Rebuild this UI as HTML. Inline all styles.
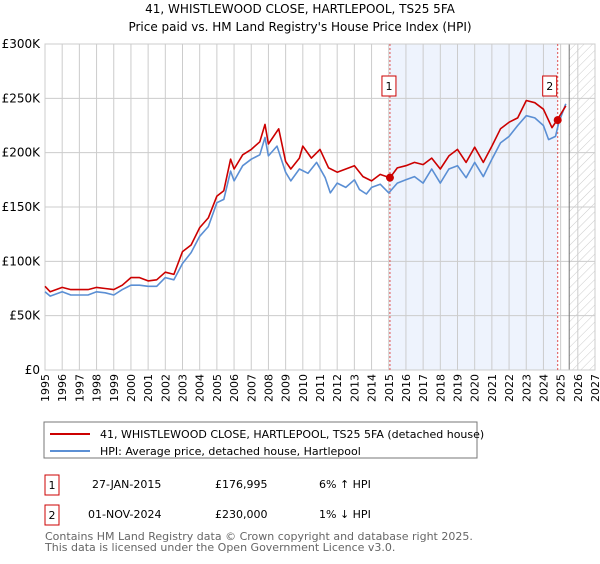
<!DOCTYPE html>
<html><head><meta charset="utf-8"><style>
body{margin:0;background:#fff;font-family:"DejaVu Sans","Liberation Sans",sans-serif;}
svg text{font-family:"DejaVu Sans","Liberation Sans",sans-serif;}
</style></head><body>
<svg id="c" width="600" height="560" viewBox="0 0 600 560" xmlns="http://www.w3.org/2000/svg">
<defs><pattern id="h" width="6" height="6" patternUnits="userSpaceOnUse" patternTransform="rotate(45)"><line x1="0" y1="0" x2="0" y2="6" stroke="#ccc" stroke-width="1"/></pattern></defs>
<text x="300" y="13" text-anchor="middle" font-size="12" fill="#000">41, WHISTLEWOOD CLOSE, HARTLEPOOL, TS25 5FA</text>
<text x="300" y="31" text-anchor="middle" font-size="12" fill="#000">Price paid vs. HM Land Registry's House Price Index (HPI)</text>
<g id="plot"></g>
<rect x="44" y="422" width="433" height="36" fill="#fff" stroke="#777"/>
<line x1="50" y1="434" x2="90" y2="434" stroke="#cc0000" stroke-width="2"/>
<text x="100" y="438" font-size="11">41, WHISTLEWOOD CLOSE, HARTLEPOOL, TS25 5FA (detached house)</text>
<line x1="50" y1="451" x2="90" y2="451" stroke="#5b8fd4" stroke-width="2"/>
<text x="100" y="455" font-size="11">HPI: Average price, detached house, Hartlepool</text>
<g>
<rect x="45" y="475" width="14" height="20" fill="#fff" stroke="#cc0000"/>
<text x="52" y="489" text-anchor="middle" font-size="11">1</text>
<text x="92" y="488" font-size="11">27-JAN-2015</text>
<text x="215" y="488" font-size="11">£176,995</text>
<text x="319" y="488" font-size="11">6% ↑ HPI</text></g>
<g>
<rect x="45" y="505" width="14" height="20" fill="#fff" stroke="#cc0000"/>
<text x="52" y="519" text-anchor="middle" font-size="11">2</text>
<text x="88" y="518" font-size="11">01-NOV-2024</text>
<text x="215" y="518" font-size="11">£230,000</text>
<text x="319" y="518" font-size="11">1% ↓ HPI</text></g>
<text x="45" y="540" font-size="11" fill="#666">Contains HM Land Registry data © Crown copyright and database right 2025.</text>
<text x="45" y="551" font-size="11" fill="#666">This data is licensed under the Open Government Licence v3.0.</text>
</svg>
<script>
const hpiYears=[1995,1995.3,1996,1996.5,1997,1997.5,1998,1998.5,1999,1999.5,2000,2000.5,2001,2001.5,2002,2002.5,2003,2003.5,2004,2004.5,2005,2005.4,2005.8,2006,2006.5,2007,2007.5,2007.8,2008,2008.5,2009,2009.3,2009.8,2010.3,2010.8,2011.3,2011.6,2012,2012.5,2013,2013.3,2013.7,2014,2014.5,2015,2015.5,2016,2016.5,2017,2017.5,2018,2018.5,2019,2019.5,2020,2020.5,2021,2021.5,2022,2022.5,2023,2023.5,2024,2024.3,2024.7,2024.9,2025.3];
const hpiValues=[72,68,72,69,69,69,72,71,69,74,78,78,77,77,85,83,98,108,123,132,154,157,183,174,188,194,198,214,197,206,182,174,185,181,191,177,163,172,168,175,166,162,168,171,163,172,175,178,172,185,172,185,188,177,191,178,194,209,215,225,234,232,225,212,215,228,245];
const priceYears=[1995,1995.3,1996,1996.5,1997,1997.5,1998,1998.5,1999,1999.5,2000,2000.5,2001,2001.5,2002,2002.5,2003,2003.5,2004,2004.5,2005,2005.4,2005.8,2006,2006.5,2007,2007.5,2007.8,2008,2008.6,2009,2009.3,2009.8,2010,2010.5,2011,2011.5,2012,2012.5,2013,2013.5,2014,2014.5,2015.07,2015.5,2016,2016.5,2017,2017.5,2018,2018.5,2019,2019.5,2020,2020.5,2021,2021.5,2022,2022.5,2023,2023.5,2024,2024.5,2024.83,2025.3];
const priceValues=[77,72,76,74,74,74,76,75,74,78,85,85,82,83,90,88,109,115,131,140,160,165,194,185,198,203,210,226,208,222,192,185,195,206,195,203,186,182,185,188,178,174,180,177,186,188,191,189,195,185,197,203,191,205,191,206,222,228,232,248,246,240,223,231,243];
const yTicks=[0,50,100,150,200,250,300];
const yLabels=["£0","£50K","£100K","£150K","£200K","£250K","£300K"];
const xTicks=[];for(let y=1995;y<=2027;y++)xTicks.push(y);
const sales=[[2015.07,176.995],[2024.83,230]];
const X0=45,X1=595,Y0=370,Y1=44;
const xs=v=>X0+(v-1995)*(X1-X0)/32;
const ys=v=>Y0-v*(Y0-Y1)/300;
const NS="http://www.w3.org/2000/svg";
const g=document.getElementById('plot');
function mk(t,a){const e=document.createElementNS(NS,t);for(const k in a)e.setAttribute(k,a[k]);g.appendChild(e);return e;}
let e=mk('rect',{x:xs(2015.07),y:Y1,width:xs(2024.83)-xs(2015.07),height:Y0-Y1,fill:'#eef3fd'});


e=mk('rect',{x:xs(2025.5),y:Y1,width:X1-xs(2025.5),height:Y0-Y1,fill:'url(#h)'});


xTicks.forEach(t=>{const l=mk('line',{x1:xs(t),x2:xs(t),y1:Y1,y2:Y0,stroke:'#ccc','stroke-width':1});


const tx=mk('text',{x:0,y:0,'font-size':11,'text-anchor':'end',transform:`translate(${xs(t)+4},374) rotate(-90)`});tx.textContent=t;

});
yTicks.forEach((t,i)=>{const l=mk('line',{x1:X0,x2:X1,y1:ys(t),y2:ys(t),stroke:'#ccc','stroke-width':1});


const tx=mk('text',{x:40,y:ys(t)+4,'font-size':12,'text-anchor':'end'});tx.textContent=yLabels[i];

});
e=mk('line',{x1:xs(2025.5),x2:xs(2025.5),y1:Y1,y2:Y0,stroke:'#777','stroke-width':1});


e=mk('rect',{x:X0,y:Y1,width:X1-X0,height:Y0-Y1,fill:'none',stroke:'#ccc'});


sales.forEach((s,i)=>{const l=mk('line',{x1:xs(s[0]),x2:xs(s[0]),y1:Y1,y2:Y0,stroke:'#e05050','stroke-dasharray':'2,2','stroke-width':1});


const b=mk('rect',{x:xs(s[0])-(i?15:8),y:76,width:14,height:20,fill:'#fff',stroke:'#cc0000'});


const t=mk('text',{x:xs(s[0])-(i?8:1),y:90,'font-size':11,'text-anchor':'middle'});t.textContent=i+1;

});
function path(xa,va,col,name){const d=xa.map((x,i)=>(i?'L':'M')+xs(x).toFixed(1)+','+ys(va[i]).toFixed(1)).join('');
const p=mk('path',{d:d,fill:'none',stroke:col,'stroke-width':1.6,'stroke-linejoin':'round'});

}
path(hpiYears,hpiValues,'#5b8fd4','hpi-line');
path(priceYears,priceValues,'#cc0000','price-line');
sales.forEach(s=>{const c=mk('circle',{cx:xs(s[0]),cy:ys(s[1]),r:4,fill:'#cc0000'});

});
</script>
</body></html>
